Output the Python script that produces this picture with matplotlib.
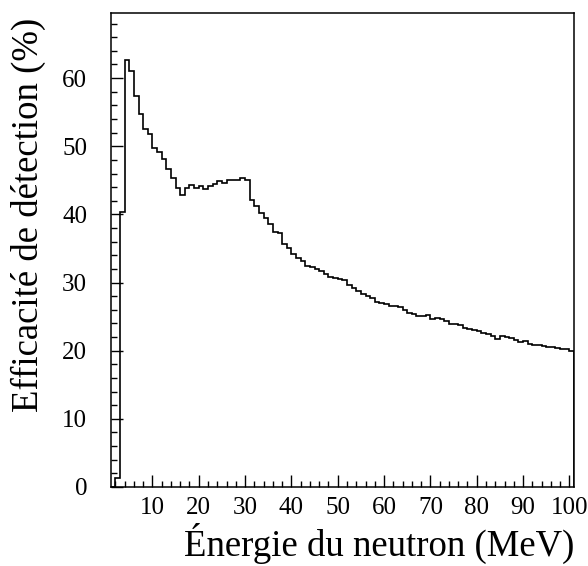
import numpy as np
import matplotlib
matplotlib.use('Agg')
from matplotlib import pyplot as plt
from matplotlib.ticker import MultipleLocator

# bin edges in MeV (1 MeV bins from 1 to 101)
edges = np.arange(1, 102)

# detection efficiency (%) per bin
efficiency = [
    0, 1.3, 40.4, 62.7, 61.1, 57.4, 54.8, 52.5, 51.8, 49.8,
    49.1, 48.1, 46.7, 45.4, 43.8, 42.8, 43.8, 44.3, 43.9, 44.1,
    43.7, 44.2, 44.5, 44.9, 44.6, 45.1, 45.0, 45.0, 45.3, 45.0,
    42.1, 41.3, 40.2, 39.5, 38.6, 37.4, 37.3, 35.6, 35.0, 34.2,
    33.6, 33.2, 32.5, 32.3, 32.0, 31.7, 31.2, 30.8, 30.6, 30.5,
    30.3, 29.6, 29.2, 28.7, 28.3, 28.0, 27.8, 27.2, 27.0, 26.9,
    26.5, 26.5, 26.4, 25.9, 25.6, 25.4, 25.1, 25.1, 25.2, 24.7,
    24.8, 24.7, 24.3, 23.9, 23.9, 23.7, 23.4, 23.2, 23.1, 22.9,
    22.6, 22.5, 22.1, 21.7, 22.1, 22.0, 21.8, 21.5, 21.3, 21.4,
    21.0, 20.9, 20.8, 20.7, 20.5, 20.5, 20.4, 20.3, 20.2, 20.0,
]

xlabel = 'Énergie du neutron (MeV)'
ylabel = 'Efficacité de détection (%)'

plt.rcParams['font.family'] = ['Liberation Serif', 'DejaVu Serif']

fig = plt.figure(figsize=(5.88, 5.66), dpi=100)
ax = fig.add_axes([0.1883, 0.1396, 0.7879, 0.8380])

ax.stairs(efficiency, edges, color='black', linewidth=1.2, baseline=0)

ax.set_xlim(1, 101)
ax.set_ylim(0, 69.6)

ax.xaxis.set_major_locator(MultipleLocator(10))
ax.xaxis.set_minor_locator(MultipleLocator(2))
ax.yaxis.set_major_locator(MultipleLocator(10))
ax.yaxis.set_minor_locator(MultipleLocator(2))

ax.tick_params(which='both', direction='in', top=False, right=False,
               width=1.0, labelsize=18)
ax.tick_params(which='major', length=8.5)
ax.tick_params(which='minor', length=4.3)
ax.tick_params(axis='y', pad=17)
ax.tick_params(axis='x', pad=7)
ax.set_xticks([10, 20, 30, 40, 50, 60, 70, 80, 90, 100])

for s in ax.spines.values():
    s.set_linewidth(1.1)

ax.set_xlabel(xlabel, fontsize=26.5)
ax.xaxis.label.set_ha('right')
ax.xaxis.label.set_va('baseline')
ax.xaxis.set_label_coords(1.0, -0.145)

ax.set_ylabel(ylabel, fontsize=26.5)
ax.yaxis.label.set_ha('right')
ax.yaxis.label.set_va('baseline')
ax.yaxis.set_label_coords(-0.157, 0.99)

fig.savefig('out.png', dpi=100)
